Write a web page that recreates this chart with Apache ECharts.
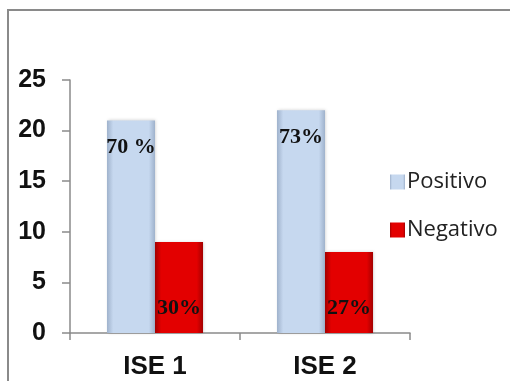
<!DOCTYPE html>
<html>
<head>
<meta charset="utf-8">
<style>
  html, body { margin: 0; padding: 0; background: #fff; }
  #chart { width: 510px; height: 381px; }
</style>
<script src="https://cdn.jsdelivr.net/npm/echarts@6/dist/echarts.min.js"></script>
</head>
<body>
<div id="chart"></div>
<script>
// Survey results per group
const categories = ['ISE 1', 'ISE 2'];
const positivo = [21, 22];
const negativo = [9, 8];
const positivoLabels = ['70 %', '73%'];
const negativoLabels = ['30%', '27%'];
const yTicks = { min: 0, max: 25, interval: 5 };

const blueFill = {
  type: 'linear', x: 0, y: 0, x2: 1, y2: 0,
  colorStops: [
    { offset: 0, color: '#9fb2cc' },
    { offset: 0.13, color: '#c6d8ef' },
    { offset: 0.87, color: '#c6d8ef' },
    { offset: 1, color: '#9fb2cc' }
  ]
};
const redFill = {
  type: 'linear', x: 0, y: 0, x2: 1, y2: 0,
  colorStops: [
    { offset: 0, color: '#a30000' },
    { offset: 0.13, color: '#e30000' },
    { offset: 0.87, color: '#e30000' },
    { offset: 1, color: '#a30000' }
  ]
};

const labelFont = {
  fontFamily: '"Liberation Serif", "Times New Roman", serif',
  fontWeight: 'bold',
  fontSize: 22,
  color: '#111'
};

const chart = echarts.init(document.getElementById('chart'), null, { renderer: 'canvas' });
chart.setOption({
  animation: false,
  backgroundColor: '#fff',
  graphic: [{
    type: 'rect',
    shape: { x: 8, y: 10, width: 520, height: 400 },
    style: { fill: 'none', stroke: '#8a8a8a', lineWidth: 2 },
    silent: true
  }],
  grid: { left: 70, right: 100, top: 80, bottom: 48, containLabel: false },
  legend: {
    orient: 'vertical',
    left: 385,
    top: 166,
    icon: 'rect',
    itemWidth: 15,
    itemHeight: 15,
    itemGap: 26,
    textStyle: {
      fontFamily: '"Open Sans", "Noto Sans", sans-serif',
      fontSize: 22,
      lineHeight: 22,
      color: '#222',
      padding: [0, 0, 0, -3]
    },
    data: [
      { name: 'Positivo', itemStyle: { color: blueFill } },
      { name: 'Negativo', itemStyle: { color: redFill } }
    ]
  },
  xAxis: {
    type: 'category',
    data: categories,
    axisLine: { show: true, lineStyle: { color: '#8a8a8a', width: 1.5 } },
    axisTick: { show: true, length: 7, lineStyle: { color: '#8a8a8a', width: 1.5 } },
    axisLabel: {
      margin: 21,
      fontFamily: '"Liberation Sans", Arial, sans-serif',
      fontWeight: 'bold',
      fontSize: 26,
      color: '#111'
    }
  },
  yAxis: {
    type: 'value',
    min: yTicks.min,
    max: yTicks.max,
    interval: yTicks.interval,
    axisLine: { show: true, lineStyle: { color: '#8a8a8a', width: 1.5 } },
    axisTick: { show: true, length: 8, lineStyle: { color: '#8a8a8a', width: 1.5 } },
    splitLine: { show: false },
    axisLabel: {
      margin: 24,
      fontFamily: '"Liberation Sans", Arial, sans-serif',
      fontWeight: 'bold',
      fontSize: 25,
      color: '#111'
    }
  },
  series: [
    {
      name: 'Positivo',
      type: 'bar',
      data: positivo,
      barGap: '0%',
      barCategoryGap: '43.5%',
      itemStyle: {
        color: blueFill,
        shadowColor: 'rgba(0,0,0,0.18)',
        shadowBlur: 3,
        shadowOffsetX: 1
      },
      label: {
        show: true,
        position: 'insideTop',
        distance: 16,
        ...labelFont,
        formatter: p => positivoLabels[p.dataIndex]
      }
    },
    {
      name: 'Negativo',
      type: 'bar',
      data: negativo,
      itemStyle: {
        color: redFill,
        shadowColor: 'rgba(0,0,0,0.18)',
        shadowBlur: 3,
        shadowOffsetX: 1
      },
      label: {
        show: true,
        position: 'insideBottom',
        distance: 14,
        ...labelFont,
        formatter: p => negativoLabels[p.dataIndex]
      }
    }
  ]
});
</script>
</body>
</html>
